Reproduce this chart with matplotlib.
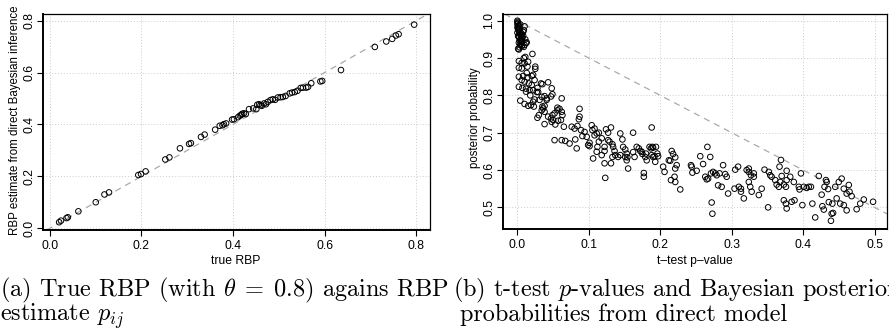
import matplotlib
matplotlib.use("Agg")
import matplotlib.pyplot as plt

plt.rcParams['mathtext.fontset'] = 'cm'
plt.rcParams['axes.unicode_minus'] = False

# ── Data: left panel (true RBP vs estimate) ───────────
true_rbp = [0.020, 0.024, 0.036, 0.039, 0.062, 0.100, 0.119, 0.129, 0.193, 0.199,
            0.209, 0.252, 0.261, 0.284, 0.304, 0.308, 0.330, 0.338, 0.361, 0.371,
            0.377, 0.380, 0.385, 0.398, 0.402, 0.411, 0.415, 0.418, 0.420, 0.424,
            0.428, 0.435, 0.444, 0.451, 0.453, 0.457, 0.460, 0.463, 0.468, 0.472,
            0.476, 0.482, 0.487, 0.492, 0.498, 0.504, 0.509, 0.515, 0.524, 0.529,
            0.535, 0.541, 0.548, 0.553, 0.560, 0.564, 0.571, 0.591, 0.595, 0.636,
            0.710, 0.735, 0.748, 0.756, 0.762, 0.796]
est_rbp = [0.023, 0.029, 0.039, 0.042, 0.065, 0.100, 0.130, 0.138, 0.205, 0.209,
           0.219, 0.265, 0.273, 0.308, 0.325, 0.328, 0.352, 0.361, 0.380, 0.395,
           0.397, 0.401, 0.404, 0.419, 0.420, 0.428, 0.434, 0.437, 0.441, 0.443,
           0.440, 0.459, 0.462, 0.459, 0.476, 0.478, 0.474, 0.472, 0.481, 0.478,
           0.487, 0.494, 0.497, 0.495, 0.504, 0.505, 0.506, 0.510, 0.520, 0.523,
           0.525, 0.530, 0.541, 0.542, 0.542, 0.545, 0.559, 0.566, 0.568, 0.610,
           0.699, 0.720, 0.730, 0.743, 0.748, 0.785]

# ── Data: right panel (t-test p-value vs posterior) ───
p_top = [0.000, 0.000, 0.001, 0.000, 0.002, 0.001, 0.000, 0.003, 0.001, 0.002,
         0.004, 0.000, 0.003, 0.005, 0.001, 0.002, 0.006, 0.004, 0.003, 0.007,
         0.002, 0.005, 0.008, 0.004, 0.006, 0.009, 0.003, 0.007, 0.010, 0.005,
         0.012, 0.009, 0.001, 0.006, 0.011, 0.008, 0.002, 0.013, 0.010, 0.004]
post_top = [1.000, 0.997, 0.994, 0.991, 0.988, 0.985, 0.982, 0.979, 0.976, 0.973,
            0.970, 0.968, 0.965, 0.962, 0.959, 0.956, 0.953, 0.950, 0.947, 0.944,
            0.941, 0.938, 0.960, 0.935, 0.932, 0.975, 0.929, 0.955, 0.985, 0.945,
            0.940, 0.930, 0.925, 0.965, 0.950, 0.970, 0.958, 0.942, 0.935, 0.990]

p_low = [0.002, 0.021, 0.002, 0.006, 0.010, 0.015, 0.011, 0.002, 0.006, 0.014,
         0.025, 0.025, 0.002, 0.008, 0.014, 0.020, 0.022, 0.006, 0.010, 0.016,
         0.020, 0.024, 0.002, 0.007, 0.012, 0.017, 0.022, 0.033, 0.035, 0.043,
         0.004, 0.010, 0.015, 0.019, 0.022, 0.024, 0.029, 0.034, 0.038, 0.041,
         0.023, 0.031, 0.035, 0.038, 0.041, 0.047, 0.049, 0.048, 0.062, 0.027,
         0.018, 0.013, 0.028, 0.009, 0.012]
post_low = [0.923, 0.911, 0.892, 0.887, 0.886, 0.890, 0.903, 0.874, 0.872, 0.877,
            0.877, 0.871, 0.850, 0.852, 0.848, 0.852, 0.855, 0.841, 0.837, 0.832,
            0.828, 0.841, 0.823, 0.820, 0.818, 0.814, 0.814, 0.832, 0.830, 0.835,
            0.786, 0.777, 0.772, 0.774, 0.783, 0.789, 0.809, 0.796, 0.798, 0.792,
            0.770, 0.788, 0.770, 0.772, 0.788, 0.797, 0.803, 0.819, 0.792, 0.809,
            0.800, 0.860, 0.820, 0.900, 0.810]

p_mid = [0.028, 0.030, 0.034, 0.036, 0.038, 0.038, 0.043, 0.047, 0.049, 0.052,
         0.056, 0.048, 0.050, 0.053, 0.057, 0.061, 0.056, 0.059, 0.062, 0.063,
         0.065, 0.087, 0.087, 0.086, 0.052, 0.062, 0.067, 0.073, 0.081, 0.083,
         0.076, 0.080, 0.084, 0.089, 0.091, 0.094, 0.097, 0.099, 0.101, 0.101,
         0.104, 0.108, 0.105, 0.108, 0.111, 0.114, 0.118, 0.122, 0.122, 0.106]
post_mid = [0.740, 0.747, 0.760, 0.765, 0.756, 0.723, 0.743, 0.738, 0.747, 0.752,
            0.760, 0.729, 0.734, 0.722, 0.732, 0.734, 0.767, 0.764, 0.756, 0.747,
            0.716, 0.764, 0.743, 0.736, 0.680, 0.680, 0.678, 0.671, 0.682, 0.658,
            0.716, 0.711, 0.718, 0.707, 0.691, 0.702, 0.689, 0.667, 0.664, 0.673,
            0.720, 0.711, 0.707, 0.693, 0.698, 0.700, 0.685, 0.662, 0.651, 0.631]

p_d = [0.127, 0.129, 0.133, 0.134, 0.136, 0.133, 0.131, 0.131, 0.124, 0.127,
       0.144, 0.147, 0.148, 0.151, 0.153, 0.154, 0.162, 0.167, 0.170, 0.172,
       0.180, 0.185, 0.187, 0.189, 0.190, 0.188, 0.194, 0.196, 0.155, 0.123,
       0.162, 0.164, 0.174, 0.175, 0.179, 0.181, 0.177, 0.177, 0.188, 0.190,
       0.192, 0.197, 0.193, 0.137, 0.141, 0.144, 0.151, 0.153, 0.118, 0.122,
       0.111, 0.112, 0.114]
post_d = [0.680, 0.676, 0.669, 0.662, 0.651, 0.635, 0.618, 0.714, 0.709, 0.700,
          0.698, 0.682, 0.662, 0.655, 0.644, 0.634, 0.700, 0.662, 0.658, 0.651,
          0.644, 0.662, 0.658, 0.662, 0.660, 0.714, 0.662, 0.644, 0.604, 0.579,
          0.648, 0.635, 0.649, 0.643, 0.635, 0.626, 0.592, 0.582, 0.640, 0.635,
          0.637, 0.637, 0.622, 0.640, 0.635, 0.640, 0.635, 0.626, 0.640, 0.618,
          0.649, 0.662, 0.676]

p_e = [0.204, 0.206, 0.212, 0.214, 0.216, 0.218, 0.221, 0.223, 0.221, 0.215,
       0.221, 0.220, 0.228, 0.243, 0.244, 0.245, 0.251, 0.256, 0.260, 0.263,
       0.267, 0.265, 0.266, 0.270, 0.271, 0.274, 0.277, 0.279, 0.272, 0.273,
       0.281, 0.286, 0.288, 0.295, 0.283, 0.291, 0.293]
post_e = [0.609, 0.595, 0.626, 0.625, 0.651, 0.643, 0.634, 0.613, 0.604, 0.573,
          0.568, 0.582, 0.548, 0.613, 0.609, 0.593, 0.598, 0.637, 0.616, 0.582,
          0.577, 0.575, 0.662, 0.635, 0.591, 0.595, 0.591, 0.586, 0.513, 0.483,
          0.559, 0.555, 0.613, 0.537, 0.591, 0.589, 0.582]

p_f = [0.305, 0.309, 0.304, 0.310, 0.313, 0.313, 0.317, 0.321, 0.324, 0.324,
       0.327, 0.324, 0.326, 0.328, 0.331, 0.331, 0.338, 0.342, 0.351, 0.346,
       0.352, 0.354, 0.356, 0.361, 0.363, 0.366, 0.368, 0.370, 0.373, 0.376,
       0.377, 0.377, 0.367, 0.369, 0.373, 0.376, 0.377, 0.384, 0.388, 0.382,
       0.387, 0.394, 0.395, 0.397, 0.401, 0.399]
post_f = [0.601, 0.609, 0.550, 0.555, 0.550, 0.542, 0.524, 0.600, 0.604, 0.595,
          0.586, 0.568, 0.555, 0.542, 0.582, 0.591, 0.533, 0.550, 0.500, 0.601,
          0.595, 0.586, 0.582, 0.573, 0.561, 0.555, 0.568, 0.584, 0.561, 0.555,
          0.573, 0.598, 0.609, 0.627, 0.519, 0.510, 0.497, 0.515, 0.519, 0.582,
          0.568, 0.555, 0.548, 0.591, 0.555, 0.506]

p_g = [0.405, 0.408, 0.411, 0.413, 0.417, 0.426, 0.430, 0.433, 0.435, 0.429,
       0.422, 0.436, 0.441, 0.447, 0.450, 0.440, 0.442, 0.439, 0.445, 0.452,
       0.457, 0.461, 0.465, 0.468, 0.457, 0.461, 0.475, 0.480, 0.485, 0.498,
       0.454, 0.432, 0.427, 0.464]
post_g = [0.552, 0.555, 0.555, 0.510, 0.473, 0.534, 0.555, 0.568, 0.549, 0.494,
          0.584, 0.514, 0.510, 0.524, 0.568, 0.483, 0.485, 0.464, 0.555, 0.510,
          0.550, 0.537, 0.542, 0.530, 0.506, 0.492, 0.495, 0.510, 0.521, 0.515,
          0.577, 0.573, 0.503, 0.560]

pvals = p_top + p_low + p_mid + p_d + p_e + p_f + p_g
posterior = post_top + post_low + post_mid + post_d + post_e + post_f + post_g

left_ticks = ['0.0', '0.2', '0.4', '0.6', '0.8']
right_xticks = ['0.0', '0.1', '0.2', '0.3', '0.4', '0.5']
right_yticks = ['0.5', '0.6', '0.7', '0.8', '0.9', '1.0']

# ── Plot ──────────────────────────────────────────────
SANS = 'Liberation Sans'
W, H = 889, 333
fig = plt.figure(figsize=(W / 100, H / 100), dpi=100)


def px(x, y):
    # pixel (from top-left) -> figure fraction
    return x / W, 1 - y / H


ax1 = fig.add_axes([43 / W, 1 - 230 / H, 387 / W, 216 / H])
ax2 = fig.add_axes([503 / W, 1 - 229 / H, 384 / W, 215 / H])


def style_axes(ax):
    ax.grid(True, color='#cccccc', linestyle=(0, (1, 2)), linewidth=0.7)
    ax.set_axisbelow(True)
    for side in ['left', 'bottom']:
        ax.spines[side].set_linewidth(1.4)
    for side in ['top', 'right']:
        ax.spines[side].set_linewidth(0.9)
    ax.tick_params(direction='out', length=4, width=0.8, labelsize=8.7)
    ax.tick_params(axis='x', pad=3)
    ax.tick_params(axis='y', pad=1.5)
    for lab in ax.get_xticklabels() + ax.get_yticklabels():
        lab.set_fontfamily(SANS)
    for lab in ax.get_yticklabels():
        lab.set_rotation(90)
        lab.set_va('center')


# left panel
ax1.set_xlim(-0.0153, 0.8306)
ax1.set_ylim(-0.007, 0.826)
ax1.axline((0, 0), slope=1, color='#aaaaaa', linestyle=(0, (5, 4)), linewidth=0.9)
ax1.scatter(true_rbp, est_rbp, s=16, facecolors='none', edgecolors='black', linewidths=0.7, zorder=3)
ax1.set_xticks([float(t) for t in left_ticks])
ax1.set_yticks([float(t) for t in left_ticks])
ax1.set_xticklabels(left_ticks)
ax1.set_yticklabels(left_ticks)
style_axes(ax1)

# right panel
ax2.set_xlim(-0.0202, 0.5175)
ax2.set_ylim(0.442, 1.018)
ax2.axline((0, 1), slope=-1, color='#aaaaaa', linestyle=(0, (5, 4)), linewidth=0.9)
ax2.scatter(pvals, posterior, s=16, facecolors='none', edgecolors='black', linewidths=0.7, zorder=3)
ax2.set_xticks([float(t) for t in right_xticks])
ax2.set_yticks([float(t) for t in right_yticks])
ax2.set_xticklabels(right_xticks)
ax2.set_yticklabels(right_yticks)
style_axes(ax2)

# axis labels (placed like R's mtext)
lab = dict(family=SANS, ha='center', va='center')
fig.text(*px(236, 261), 'true RBP', fontsize=8.7, **lab)
fig.text(*px(695, 261), 't\u2013test p\u2013value', fontsize=8.7, **lab)
fig.text(*px(15, 120), 'RBP estimate from direct Bayesian inference', fontsize=8.3, rotation=90, **lab)
fig.text(*px(475, 118), 'posterior probability', fontsize=8.3, rotation=90, **lab)

# captions
cap = dict(fontsize=17.5, family='cmr10', va='baseline', ha='left')
fig.text(*px(0, 296), r'(a) True RBP (with $\theta\;=\;0.8$) agains RBP', **cap)
fig.text(*px(0, 321), r'estimate $p_{ij}$', **cap)
fig.text(*px(453, 296), r'(b) t-test $p$-values and Bayesian posterior', **cap)
fig.text(*px(460, 321), 'probabilities from direct model', **cap)

fig.savefig('out.png', dpi=100)
